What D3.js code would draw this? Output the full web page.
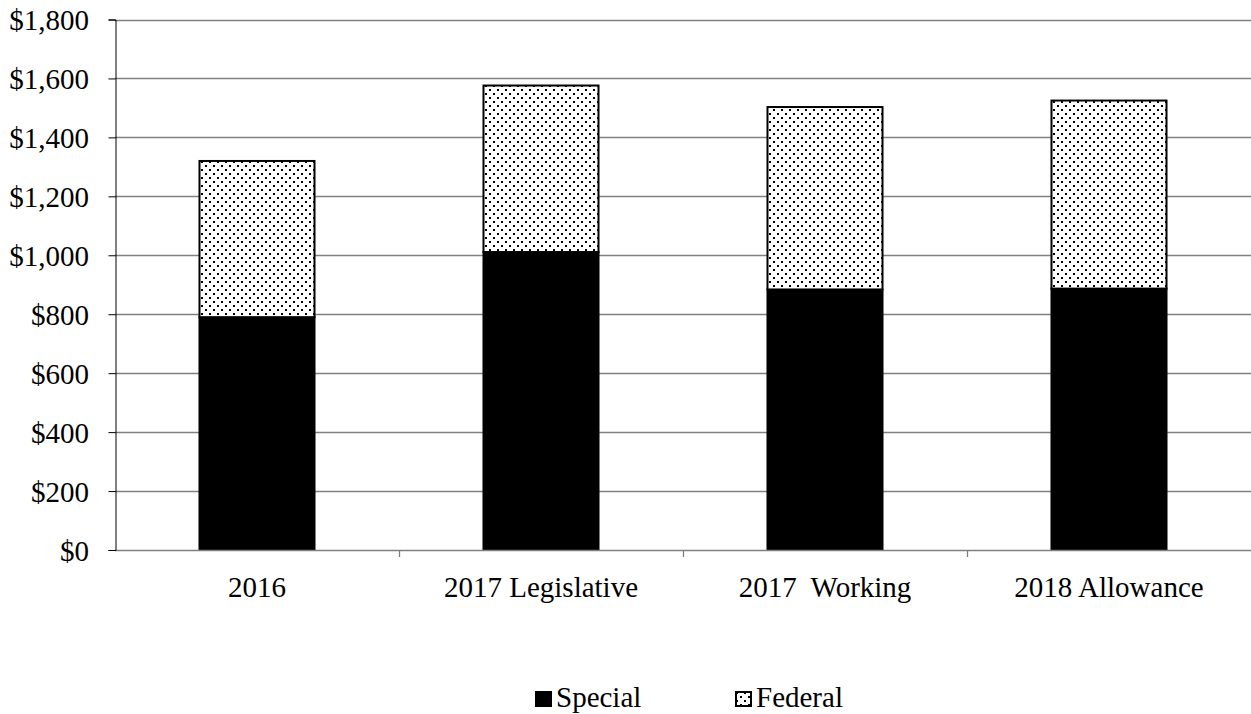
<!DOCTYPE html>
<html>
<head>
<meta charset="utf-8">
<script src="https://cdn.jsdelivr.net/npm/d3@7"></script>
<style>
  html, body { margin: 0; padding: 0; background: #fff; }
  svg { display: block; }
</style>
</head>
<body>
<svg id="chart" width="1251" height="714"></svg>
<script>
const categories = ["2016", "2017 Legislative", "2017  Working", "2018 Allowance"];
const specialValues = [790, 1011, 884, 887];
const federalValues = [530, 565, 619, 638];
const seriesNames = ["Special", "Federal"];
const yTicks = [0, 200, 400, 600, 800, 1000, 1200, 1400, 1600, 1800];

(function () {
const svg = d3.select("#chart");
const mLeft = 115, mRight = 1251, mTop = 19.5, mBottom = 550;
const fontSize = 29;
const fontFam = "'Liberation Serif', 'Times New Roman', Times, serif";

const defs = svg.append("defs");
const pat = defs.append("pattern")
  .attr("id", "dots").attr("patternUnits", "userSpaceOnUse")
  .attr("width", 8).attr("height", 8);
pat.append("rect").attr("width", 8).attr("height", 8).attr("fill", "#fff");
pat.append("rect").attr("x", 1).attr("y", 1).attr("width", 2).attr("height", 2).attr("fill", "#000");
pat.append("rect").attr("x", 5).attr("y", 5).attr("width", 2).attr("height", 2).attr("fill", "#000");

const x = d3.scaleBand().domain(categories).range([mLeft, mRight]).padding(0);
const y = d3.scaleLinear().domain([0, 1800]).range([mBottom, mTop]);

// gridlines
svg.append("g").selectAll("line").data(yTicks.filter(d => d > 0)).join("line")
  .attr("x1", mLeft).attr("x2", mRight)
  .attr("y1", d => Math.round(y(d)) + 0.5).attr("y2", d => Math.round(y(d)) + 0.5)
  .attr("stroke", "#808080").attr("stroke-width", 1.3);

const data = categories.map((c, i) => ({ cat: c, special: specialValues[i], federal: federalValues[i] }));
const stack = d3.stack().keys(["special", "federal"])(data);
const barW = x.bandwidth() * 0.405;
const fills = ["#000", "url(#dots)"];

stack.forEach((layer, li) => {
  svg.append("g").selectAll("rect").data(layer).join("rect")
    .attr("x", d => x(d.data.cat) + (x.bandwidth() - barW) / 2)
    .attr("width", barW)
    .attr("y", d => y(d[1]))
    .attr("height", d => y(d[0]) - y(d[1]))
    .attr("fill", fills[li])
    .attr("stroke", "#000")
    .attr("stroke-width", 2);
});

// x axis
const xAxis = svg.append("g").attr("transform", `translate(0,${mBottom})`);
xAxis.append("line").attr("x1", mLeft).attr("x2", mRight).attr("y1", 0.5).attr("y2", 0.5)
  .attr("stroke", "#808080").attr("stroke-width", 1.3);
xAxis.selectAll("line.tick").data(categories.slice(1)).join("line").attr("class", "tick")
  .attr("x1", d => Math.round(x(d)) + 0.5).attr("x2", d => Math.round(x(d)) + 0.5)
  .attr("y1", 0).attr("y2", 7).attr("stroke", "#808080").attr("stroke-width", 1.3);
xAxis.selectAll("text").data(categories).join("text")
  .attr("x", d => x(d) + x.bandwidth() / 2)
  .attr("y", 47)
  .attr("text-anchor", "middle")
  .style("font-family", fontFam)
  .style("font-size", fontSize + "px")
  .style("white-space", "pre")
  .attr("fill", "#000")
  .text(d => d);

// y axis
const yAxis = d3.axisLeft(y).tickValues(yTicks).tickSize(7).tickPadding(19.5)
  .tickFormat(d => "$" + d3.format(",")(d));
const yg = svg.append("g").attr("transform", `translate(${mLeft + 0.5},0)`).call(yAxis);
yg.select(".domain").attr("stroke", "#000").attr("stroke-width", 1);
yg.selectAll(".tick line").attr("stroke", "#000");
yg.selectAll(".tick text")
  .attr("dy", "0.36em")
  .style("font-family", fontFam)
  .style("font-size", fontSize + "px")
  .attr("fill", "#000");

// legend
const legend = svg.append("g");
const legendX = [535, 735];
seriesNames.forEach((name, i) => {
  const g = legend.append("g").attr("transform", `translate(${legendX[i]},691)`);
  if (i === 0) {
    g.append("rect").attr("width", 17).attr("height", 16).attr("fill", "#000");
  } else {
    g.append("rect").attr("x", 1).attr("y", 1).attr("width", 15).attr("height", 14)
      .attr("fill", "url(#dots)").attr("stroke", "#000").attr("stroke-width", 2);
  }
  g.append("text").attr("x", 21).attr("y", 16)
    .style("font-family", fontFam)
    .style("font-size", fontSize + "px")
    .attr("fill", "#000")
    .text(name);
});
})();
</script>
</body>
</html>
